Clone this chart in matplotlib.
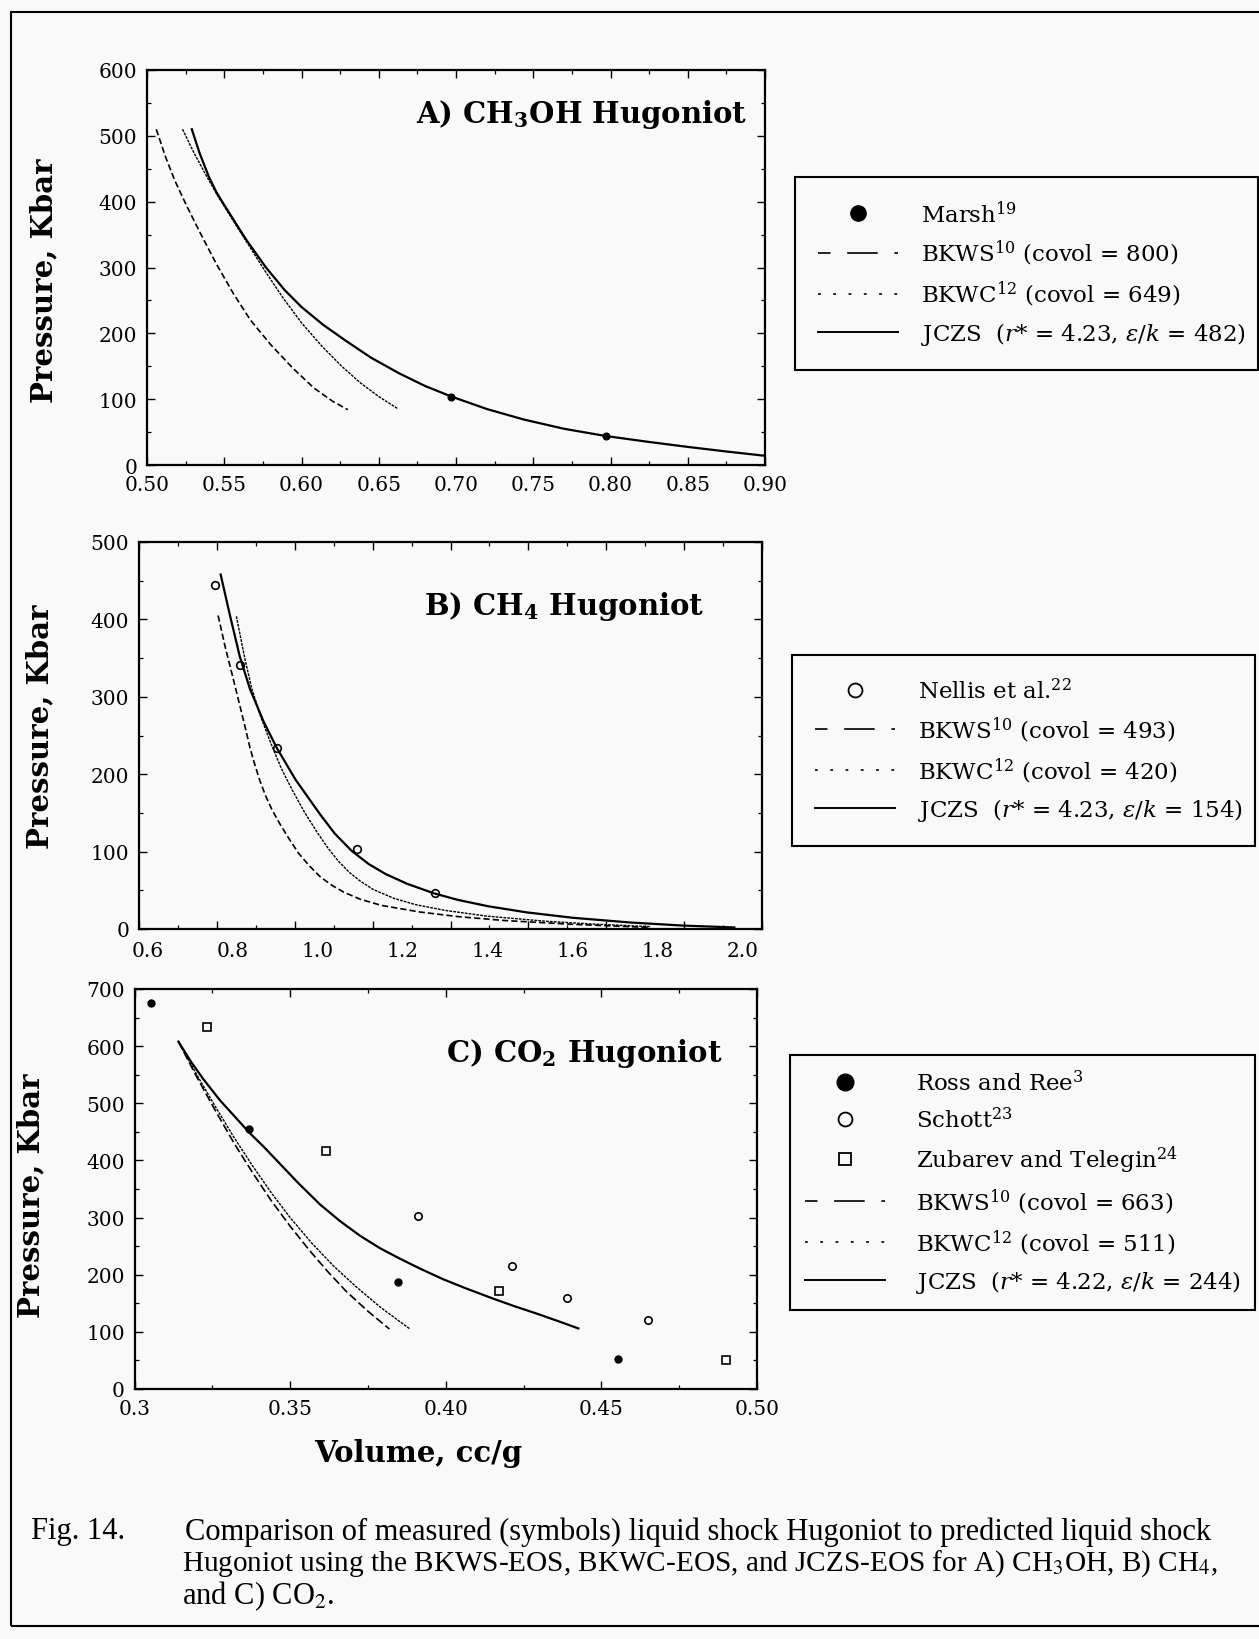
import numpy as np
import matplotlib
matplotlib.use("Agg")
import matplotlib.pyplot as plt
from matplotlib.lines import Line2D
from matplotlib.patches import Rectangle

plt.rcParams['font.family'] = 'DejaVu Serif'
plt.rcParams['mathtext.fontset'] = 'dejavuserif'
plt.rcParams['lines.scale_dashes'] = False

BG = '#f9f9f9'

# ---- A) CH3OH ----
A_marsh_v = [0.697, 0.797]
A_marsh_p = [104, 44]
A_bkws_v = [0.506, 0.512, 0.518, 0.526, 0.535, 0.545, 0.556, 0.567, 0.580, 0.594, 0.608, 0.620, 0.630]
A_bkws_p = [510, 468, 432, 392, 350, 305, 260, 220, 183, 148, 117, 97, 84]
A_bkwc_v = [0.523, 0.530, 0.538, 0.546, 0.555, 0.565, 0.576, 0.588, 0.600, 0.613, 0.626, 0.638, 0.650, 0.662]
A_bkwc_p = [510, 476, 441, 408, 374, 337, 296, 254, 216, 181, 150, 125, 104, 86]
A_jczs_v = [0.529, 0.534, 0.540, 0.545, 0.5505, 0.564, 0.577, 0.589, 0.600, 0.614, 0.6285, 0.645,
            0.6634, 0.680, 0.697, 0.720, 0.744, 0.770, 0.797, 0.825, 0.850, 0.875, 0.900]
A_jczs_p = [510, 474, 438, 414, 393, 343, 300, 266, 240, 213, 189, 163,
            139, 120, 104, 85, 69, 55, 44, 35, 27.5, 20.5, 14]

# ---- B) CH4 ----
B_nellis_v = [0.758, 0.817, 0.905, 1.092, 1.275]
B_nellis_p = [444, 341, 234, 104, 46]
B_bkws_v = [0.766, 0.782, 0.794, 0.817, 0.830, 0.841, 0.852, 0.864, 0.877, 0.892, 0.910, 0.930,
            0.955, 0.980, 1.007, 1.035, 1.062, 1.100, 1.150, 1.240, 1.330, 1.438, 1.600, 1.781]
B_bkws_p = [405, 366, 340, 289, 260, 234, 213, 192, 173, 155, 137, 119,
            98, 82, 67, 56, 47.5, 38.5, 30.5, 22, 16, 11, 6, 2]
B_bkwc_v = [0.809, 0.829, 0.845, 0.865, 0.890, 0.915, 0.940, 0.968, 1.000, 1.025, 1.050,
            1.075, 1.100, 1.131, 1.180, 1.230, 1.300, 1.400, 1.537, 1.650, 1.784]
B_bkwc_p = [404, 349, 311, 276, 240, 207, 180, 152, 124, 104, 87,
            73, 62, 51, 39.5, 31.5, 24, 16.5, 10, 6.3, 3]
B_jczs_v = [0.772, 0.794, 0.817, 0.841, 0.873, 0.904, 0.948, 1.006, 1.040, 1.080, 1.120,
            1.160, 1.210, 1.274, 1.330, 1.400, 1.490, 1.600, 1.735, 1.860, 1.980]
B_jczs_p = [458, 405, 352, 310, 268, 234, 193, 148, 123.5, 101, 84,
            71, 58.5, 46, 37.6, 29.5, 21.6, 14.5, 8.4, 4.4, 2]
B_xlabels = [0.6, 0.8, 1.0, 1.2, 1.4, 1.6, 1.8, 2.0]

# ---- C) CO2 ----
C_ross_v = [0.3053, 0.3369, 0.3848, 0.4553]
C_ross_p = [675, 455, 187, 52]
C_schott_v = [0.3912, 0.4212, 0.4391, 0.4651]
C_schott_p = [303, 215, 159, 121]
C_zub_v = [0.3234, 0.3614, 0.4172, 0.4900]
C_zub_p = [633, 416, 172, 50]
C_bkws_v = [0.3141, 0.320, 0.326, 0.332, 0.338, 0.344, 0.350, 0.356, 0.362, 0.368, 0.375, 0.3819]
C_bkws_p = [608, 546, 487, 430, 378, 329, 285, 244, 206, 171, 136, 105]
C_bkwc_v = [0.3141, 0.320, 0.326, 0.332, 0.338, 0.344, 0.350, 0.357, 0.364, 0.371, 0.379, 0.3885]
C_bkwc_p = [608, 550, 494, 440, 390, 343, 300, 255, 215, 180, 143, 105]
C_jczs_v = [0.3141, 0.318, 0.322, 0.3275, 0.333, 0.337, 0.3415, 0.3457, 0.3525, 0.3596, 0.366,
            0.3725, 0.379, 0.3853, 0.392, 0.3992, 0.407, 0.4153, 0.422, 0.4292, 0.436, 0.4426]
C_jczs_p = [608, 574, 543, 505, 472, 448, 424, 400, 361, 323, 294,
            268, 246, 228, 210, 192, 175, 158, 145, 132, 119, 106]

W, H = 1259, 1640
fig = plt.figure(figsize=(W / 100, H / 100), dpi=100, facecolor=BG)


def box(l, t, r, b):
    return [l / W, 1 - b / H, (r - l) / W, (b - t) / H]


def style(ax):
    ax.set_facecolor(BG)
    for s in ax.spines.values():
        s.set_linewidth(1.6)
    ax.tick_params(which='both', direction='in', top=True, right=True,
                   labelsize=14.5, pad=7)
    ax.tick_params(which='major', length=6, width=1.0)
    ax.tick_params(which='minor', length=3, width=0.9)


dash_plot = (0, (4.5, 2.2))
dot_plot = (0, (2.0, 0.8))

# panel A
axA = fig.add_axes(box(147, 71, 765, 466))
style(axA)
axA.plot(A_bkws_v, A_bkws_p, color='k', lw=1.2, ls=dash_plot)
axA.plot(A_bkwc_v, A_bkwc_p, color='k', lw=1.0, ls=dot_plot)
axA.plot(A_jczs_v, A_jczs_p, color='k', lw=1.6)
axA.plot(A_marsh_v, A_marsh_p, 'o', color='k', ms=4.8)
axA.set_xlim(0.50, 0.90)
axA.set_ylim(0, 600)
axA.set_xticks(np.arange(0.50, 0.901, 0.05))
axA.set_xticklabels(['%.2f' % v for v in np.arange(0.50, 0.901, 0.05)])
axA.set_xticks(np.arange(0.525, 0.9, 0.05), minor=True)
axA.set_yticks(range(0, 601, 100))
axA.set_yticks(range(50, 600, 100), minor=True)
axA.text(0.971, 0.889, r'A) CH$_{\mathbf{3}}$OH Hugoniot', transform=axA.transAxes,
         ha='right', va='center', fontsize=21, fontweight='bold')

# panel B (tick marks and labels are not aligned in the original)
axB = fig.add_axes(box(139, 543, 762, 930))
style(axB)
axB.plot(B_bkws_v, B_bkws_p, color='k', lw=1.2, ls=dash_plot)
axB.plot(B_bkwc_v, B_bkwc_p, color='k', lw=1.0, ls=dot_plot)
axB.plot(B_jczs_v, B_jczs_p, color='k', lw=1.6)
axB.plot(B_nellis_v, B_nellis_p, 'o', mfc='none', mec='k', mew=1.2, ms=5.5)
axB.set_xlim(0.58, 2.045)
axB.set_ylim(0, 500)
bt = np.linspace(0.58, 2.045, 9)
axB.set_xticks(bt)
axB.set_xticklabels([])
axB.set_xticks((bt[:-1] + bt[1:]) / 2, minor=True)
axB.set_yticks(range(0, 501, 100))
axB.set_yticks(range(50, 500, 100), minor=True)
secB = axB.secondary_xaxis('bottom')
secB.set_xticks(B_xlabels)
secB.set_xticklabels(['%.1f' % v for v in B_xlabels])
secB.tick_params(length=0, labelsize=14.5, pad=9)
secB.spines['bottom'].set_visible(False)
axB.text(0.907, 0.835, r'B) CH$_{\mathbf{4}}$ Hugoniot', transform=axB.transAxes,
         ha='right', va='center', fontsize=21, fontweight='bold')

# panel C
axC = fig.add_axes(box(134.5, 990, 757, 1390))
style(axC)
axC.plot(C_bkws_v, C_bkws_p, color='k', lw=1.2, ls=(0, (6, 2.5)))
axC.plot(C_bkwc_v, C_bkwc_p, color='k', lw=1.0, ls=dot_plot)
axC.plot(C_jczs_v, C_jczs_p, color='k', lw=1.6)
axC.plot(C_ross_v, C_ross_p, 'o', color='k', ms=5)
axC.plot(C_schott_v, C_schott_p, 'o', mfc='none', mec='k', mew=1.2, ms=5.3)
axC.plot(C_zub_v, C_zub_p, 's', mfc='none', mec='k', mew=1.2, ms=5.3)
axC.set_xlim(0.30, 0.50)
axC.set_ylim(0, 700)
axC.set_xticks([0.30, 0.35, 0.40, 0.45, 0.50])
axC.set_xticklabels(['0.3', '0.35', '0.40', '0.45', '0.50'])
axC.set_xticks([0.325, 0.375, 0.425, 0.475], minor=True)
axC.set_yticks(range(0, 701, 100))
axC.set_yticks(range(50, 700, 100), minor=True)
axC.text(0.944, 0.84, r'C) CO$_{\mathbf{2}}$ Hugoniot', transform=axC.transAxes,
         ha='right', va='center', fontsize=21, fontweight='bold')

# axis titles
for x, y in [(44, 281), (40, 727), (31, 1196)]:
    fig.text(x / W, 1 - y / H, 'Pressure, Kbar', rotation=90, ha='center', va='center',
             fontsize=21, fontweight='bold')
fig.text(418 / W, 1 - 1454 / H, 'Volume, cc/g', ha='center', va='center',
         fontsize=21, fontweight='bold')

# legends
leg_dash = (13, (22, 12))
leg_dot = (0, (2, 9))


def lines_for():
    return [Line2D([], [], color='k', lw=1.2, ls=leg_dash),
            Line2D([], [], color='k', lw=1.2, ls=leg_dot),
            Line2D([], [], color='k', lw=1.4)]


def make_legend(handles, labels, left, top, right, pad, textpad=1.0):
    leg = fig.legend(handles, labels, loc='upper left',
                     bbox_to_anchor=(left / W, 1 - top / H, (right - left) / W, 0),
                     mode='expand', borderaxespad=0, fontsize=16.5,
                     handlelength=3.5, handletextpad=textpad, borderpad=pad,
                     labelspacing=0.5, fancybox=False, framealpha=1,
                     facecolor=BG, edgecolor='k')
    leg.get_frame().set_linewidth(1.5)
    return leg


hA = [Line2D([], [], ls='none', marker='o', color='k', ms=11)] + lines_for()
lA = [r'Marsh$^{19}$', r'BKWS$^{10}$ (covol = 800)', r'BKWC$^{12}$ (covol = 649)',
      r'JCZS  ($r$* = 4.23, $\varepsilon/k$ = 482)']
make_legend(hA, lA, 795, 178, 1258, 1.0)

hB = [Line2D([], [], ls='none', marker='o', mfc='none', mec='k', mew=1.3, ms=10)] + lines_for()
lB = [r'Nellis et al.$^{22}$', r'BKWS$^{10}$ (covol = 493)', r'BKWC$^{12}$ (covol = 420)',
      r'JCZS  ($r$* = 4.23, $\varepsilon/k$ = 154)']
make_legend(hB, lB, 792, 656, 1255, 1.0)

hC = [Line2D([], [], ls='none', marker='o', color='k', ms=12),
      Line2D([], [], ls='none', marker='o', mfc='none', mec='k', mew=1.3, ms=10),
      Line2D([], [], ls='none', marker='s', mfc='none', mec='k', mew=1.3, ms=9)] + lines_for()
lC = [r'Ross and Ree$^{3}$', r'Schott$^{23}$', r'Zubarev and Telegin$^{24}$',
      r'BKWS$^{10}$ (covol = 663)', r'BKWC$^{12}$ (covol = 511)',
      r'JCZS  ($r$* = 4.22, $\varepsilon/k$ = 244)']
make_legend(hC, lC, 790, 1056, 1255, 0.65, textpad=1.35)

# caption
cap = dict(family='Liberation Serif', math_fontfamily='stix', va='center', ha='left')
fig.text(31 / W, 1 - 1532 / H, 'Fig. 14.', fontsize=22, **cap)
fig.text(185 / W, 1 - 1532 / H,
         'Comparison of measured (symbols) liquid shock Hugoniot to predicted liquid shock',
         fontsize=22, **cap)
fig.text(182 / W, 1 - 1564 / H,
         r'Hugoniot using the BKWS-EOS, BKWC-EOS, and JCZS-EOS for A) CH$_3$OH, B) CH$_4$,',
         fontsize=21.1, **cap)
fig.text(182 / W, 1 - 1596 / H, r'and C) CO$_2$.', fontsize=22, **cap)

# outer frame
fig.add_artist(Rectangle((11 / W, 1 - 1627 / H), 1.1, (1627 - 13) / H, transform=fig.transFigure,
                         fill=False, lw=1.5, ec='k'))

fig.savefig('out.png', dpi=100, facecolor=BG)
